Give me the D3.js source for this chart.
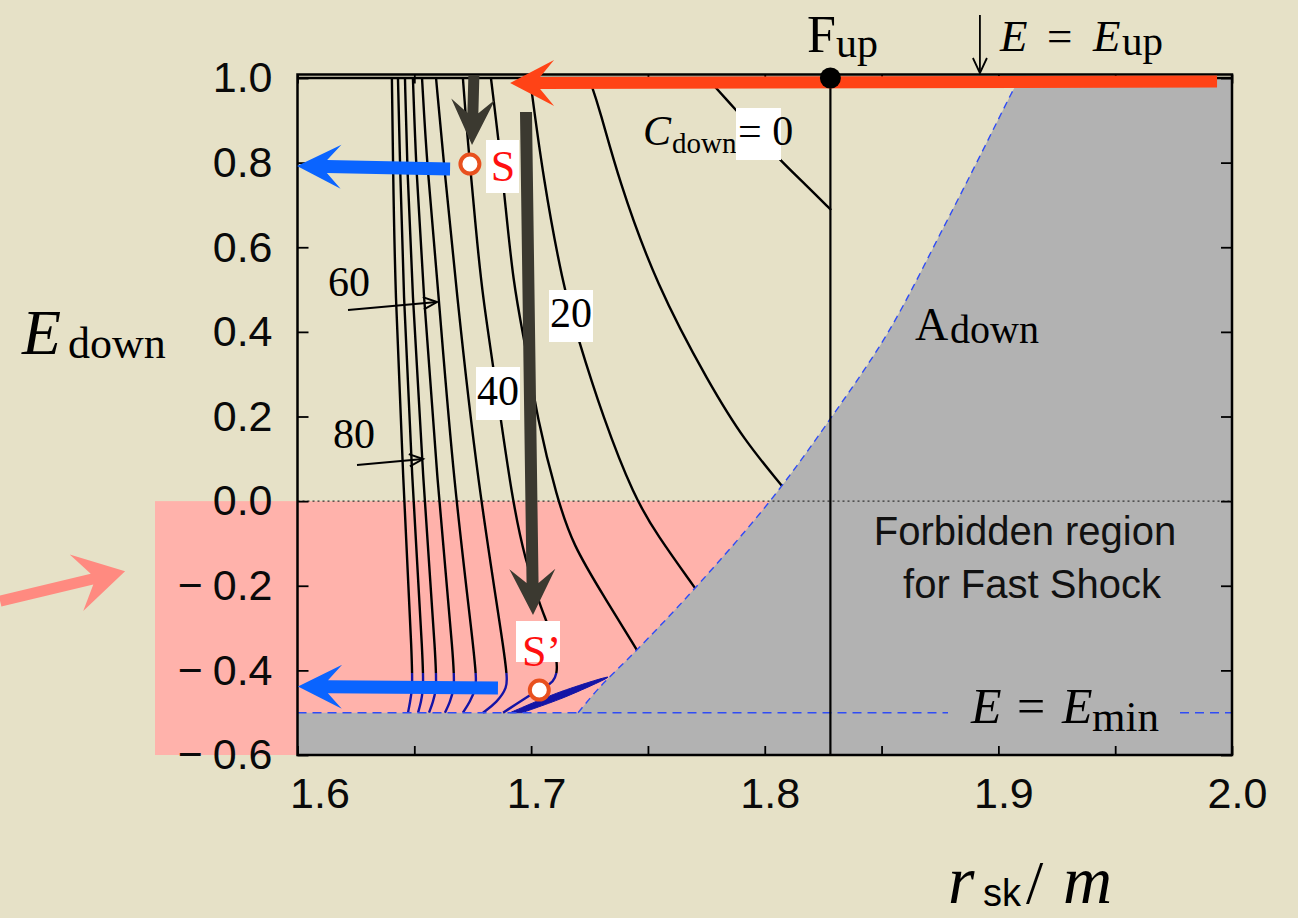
<!DOCTYPE html>
<html>
<head>
<meta charset="utf-8">
<script src="https://cdn.jsdelivr.net/npm/d3@7"></script>
<style>
  html, body { margin: 0; padding: 0; background: #e6e1c7; }
  svg { display: block; }
  .serif { font-family: "Liberation Serif", "DejaVu Serif", serif; }
  .sans { font-family: "Liberation Sans", Arial, sans-serif; }
</style>
</head>
<body>
<svg id="chart" width="1298" height="918"></svg>
<script>
// ---- axis ticks ----
const xMajorTicks = [1.6, 1.7, 1.8, 1.9, 2.0];
const xAllTicks = [1.6, 1.65, 1.7, 1.75, 1.8, 1.85, 1.9, 1.95, 2.0];
const yTicks = [-0.6, -0.4, -0.2, 0.0, 0.2, 0.4, 0.6, 0.8, 1.0];

// ---- special levels ----
const eUp = 1.0;          // upstream energy
const eMin = -0.5;        // minimum energy
const rFup = 1.8281;      // radius of point F_up
const eBlue = -0.406;     // below this, contours are drawn in blue

// ---- contour lines of C_down, [r_sk/m, E_down] ----
const contourLevels = [0, 10, 20, 30, 40, 50, 60, 70, 80, 90, 100];
const c0   = [[1.7753,1.0],[1.7881,0.922],[1.7971,0.865],[1.8065,0.806],[1.8177,0.747],[1.8284,0.688]];
const c10  = [[1.7248,1.0],[1.7295,0.924],[1.7372,0.764],[1.7535,0.511],[1.7766,0.274],[1.7911,0.145],[1.8074,0.036]];
const c20  = [[1.6995,1.0],[1.7051,0.764],[1.7136,0.511],[1.7196,0.393],[1.7308,0.197],[1.7441,0.010],[1.7539,-0.080],[1.7701,-0.205]];
const c30  = [[1.6828,1.0],[1.6880,0.764],[1.6922,0.511],[1.6982,0.352],[1.7025,0.197],[1.7111,0.007],[1.7179,-0.104],[1.7308,-0.222],[1.7453,-0.352]];
const c40  = [[1.6708,1.0],[1.6721,0.901],[1.6738,0.797],[1.6764,0.641],[1.6790,0.492],[1.6854,0.258],[1.6918,0.007],[1.6974,-0.139],[1.7042,-0.253],[1.7090,-0.316],[1.7111,-0.380],[1.7111,-0.406],[1.7094,-0.428],[1.7064,-0.437],[1.7030,-0.446],[1.6880,-0.5]];
const c50  = [[1.6593,1.0],[1.6627,0.794],[1.6678,0.511],[1.6768,0.050],[1.6901,-0.406],[1.6897,-0.442],[1.6854,-0.475],[1.6794,-0.5]];
const c60  = [[1.6533,1.0],[1.6554,0.794],[1.6601,0.511],[1.6666,0.050],[1.6768,-0.406],[1.6764,-0.442],[1.6738,-0.475],[1.6708,-0.5]];
const c70  = [[1.6494,1.0],[1.6507,0.794],[1.6537,0.511],[1.6597,0.050],[1.6674,-0.406],[1.6670,-0.442],[1.6653,-0.475],[1.6631,-0.5]];
const c80  = [[1.6460,1.0],[1.6469,0.794],[1.6490,0.511],[1.6537,0.050],[1.6597,-0.406],[1.6593,-0.446],[1.6580,-0.475],[1.6563,-0.5]];
const c90  = [[1.6430,1.0],[1.6439,0.794],[1.6452,0.511],[1.6490,0.050],[1.6541,-0.406],[1.6537,-0.446],[1.6529,-0.475],[1.6516,-0.5]];
const c100 = [[1.6404,1.0],[1.6409,0.794],[1.6417,0.511],[1.6452,0.050],[1.6494,-0.406],[1.6490,-0.446],[1.6482,-0.475],[1.6473,-0.5]];

// narrow sliver of crowded contours near the E_min corner
const sliverUpper = [[1.6910,-0.5],[1.7124,-0.451],[1.7329,-0.416]];
const sliverLower = [[1.7329,-0.416],[1.7145,-0.463],[1.6961,-0.5]];

// edge of the forbidden region for the fast shock
const boundary = [[1.7201,-0.5],[1.7295,-0.439],[1.7452,-0.352],[1.7701,-0.206],[1.8022,0.0],[1.8287,0.1995],[1.8529,0.400],[1.8767,0.6486],[1.8920,0.8142],[1.9071,0.9794],[1.9093,1.0]];

// ---- marked states ----
const pointS  = [1.6738, 0.7967];
const pointS2 = [1.7035, -0.4464];

// ---- arrows [from, to] ----
const arrowUpstream = [[1.9936, 0.9917], [1.6910, 0.988]];
const arrowShort    = [[1.6755, 1.007], [1.6747, 0.8417]];
const arrowLong     = [[1.6978, 0.9196], [1.7008, -0.2691]];
const arrowBlue1    = [[1.6653, 0.785], [1.5998, 0.792]];
const arrowBlue2    = [[1.6858, -0.4417], [1.6002, -0.438]];
const arrowPink     = [[1.4727, -0.2364], [1.5262, -0.1655]];

const svg = d3.select("#chart");
const x = d3.scaleLinear().domain([1.6, 2.0]).range([297.5, 1232]);
const y = d3.scaleLinear().domain([-0.6, 1.0]).range([755, 78]);
const frameTop = 74.5;

const BG = "#e6e1c7", PINK = "#ffb2ab", GREY = "#b2b2b2";
const DASHBLUE = "#2f4cf5", NAVY = "#1414a6";

svg.append("rect").attr("width", 1298).attr("height", 918).attr("fill", BG);

const defs = svg.append("defs");
defs.append("clipPath").attr("id", "plotClip").append("rect")
  .attr("x", x(1.6)).attr("y", frameTop).attr("width", x(2.0) - x(1.6)).attr("height", y(-0.6) - frameTop);
defs.append("clipPath").attr("id", "blackClip").append("rect")
  .attr("x", x(1.6)).attr("y", frameTop).attr("width", x(2.0) - x(1.6)).attr("height", y(eBlue) - frameTop);
defs.append("clipPath").attr("id", "blueClip").append("rect")
  .attr("x", x(1.6)).attr("y", y(eBlue)).attr("width", x(2.0) - x(1.6)).attr("height", y(-0.6) - y(eBlue));

const smooth = d3.line().x(d => x(d[0])).y(d => y(d[1])).curve(d3.curveBasis);
const through = d3.line().x(d => x(d[0])).y(d => y(d[1])).curve(d3.curveCatmullRom.alpha(0.5));

// ---- shaded regions ----
// negative-energy band, reaching out past the axis
svg.append("rect")
  .attr("x", 155).attr("y", y(0))
  .attr("width", x(1.9) - 155).attr("height", y(-0.6) - y(0))
  .attr("fill", PINK);

// forbidden region: right of the boundary plus the strip below E_min
const greyPath = through(boundary)
  + "L" + x(2.0) + "," + y(1.0)
  + "L" + x(2.0) + "," + y(-0.6)
  + "L" + x(1.6) + "," + y(-0.6)
  + "L" + x(1.6) + "," + y(eMin) + "Z";
svg.append("path").attr("d", greyPath).attr("fill", GREY).attr("clip-path", "url(#plotClip)");

const plot = svg.append("g").attr("clip-path", "url(#plotClip)");

// E = 0 dotted guide
plot.append("line")
  .attr("x1", x(1.6)).attr("x2", x(2.0)).attr("y1", y(0)).attr("y2", y(0))
  .attr("stroke", "#333").attr("stroke-width", 1.2).attr("stroke-dasharray", "2,3");

// ---- contours ----
const contours = [c0, c10, c20, c30, c40, c50, c60, c70, c80, c90, c100];
const blackG = plot.append("g").attr("clip-path", "url(#blackClip)");
const blueG = plot.append("g").attr("clip-path", "url(#blueClip)");
blackG.selectAll("path").data(contours).join("path")
  .attr("d", smooth).attr("fill", "none").attr("stroke", "#000").attr("stroke-width", 2.4);
blueG.selectAll("path").data(contours).join("path")
  .attr("d", smooth).attr("fill", "none").attr("stroke", NAVY).attr("stroke-width", 2.4);

plot.append("path")
  .attr("d", through(sliverUpper.concat(sliverLower.slice(1))) + "Z")
  .attr("fill", NAVY).attr("stroke", NAVY).attr("stroke-width", 1);

// boundary of forbidden region
plot.append("path").attr("d", through(boundary))
  .attr("fill", "none").attr("stroke", DASHBLUE).attr("stroke-width", 1.4).attr("stroke-dasharray", "7,5");

// E = E_min dashed line, with a gap for its label
plot.append("line")
  .attr("x1", x(1.6)).attr("x2", 948).attr("y1", y(eMin)).attr("y2", y(eMin))
  .attr("stroke", DASHBLUE).attr("stroke-width", 1.4).attr("stroke-dasharray", "9,6");
plot.append("line")
  .attr("x1", 1180).attr("x2", x(2.0)).attr("y1", y(eMin)).attr("y2", y(eMin))
  .attr("stroke", DASHBLUE).attr("stroke-width", 1.4).attr("stroke-dasharray", "9,6");

// vertical line through F_up
svg.append("line")
  .attr("x1", x(rFup)).attr("x2", x(rFup)).attr("y1", frameTop).attr("y2", y(-0.6))
  .attr("stroke", "#000").attr("stroke-width", 2.2);

// ---- frame and axes ----
svg.append("rect")
  .attr("x", x(1.6)).attr("y", frameTop).attr("width", x(2.0) - x(1.6)).attr("height", y(-0.6) - frameTop)
  .attr("fill", "none").attr("stroke", "#000").attr("stroke-width", 2.5);
svg.append("line")
  .attr("x1", x(1.6)).attr("x2", x(2.0)).attr("y1", y(eUp)).attr("y2", y(eUp))
  .attr("stroke", "#000").attr("stroke-width", 2.5);

const fmtX = d => xMajorTicks.some(v => Math.abs(v - d) < 1e-9) ? d.toFixed(1) : "";
const gx = svg.append("g").attr("transform", `translate(0,${y(-0.6)})`)
  .call(d3.axisBottom(x).tickValues(xAllTicks).tickSize(-9).tickPadding(22).tickFormat(fmtX));
gx.selectAll("text").attr("dx", d => Math.abs(d - 1.6) < 1e-9 ? 22 : 5);
const gxTop = svg.append("g").attr("transform", `translate(0,${frameTop})`)
  .call(d3.axisTop(x).tickValues(xAllTicks).tickSize(-9).tickFormat(""));
const gy = svg.append("g").attr("transform", `translate(${x(1.6)},0)`)
  .call(d3.axisLeft(y).tickValues(yTicks).tickSize(-11).tickPadding(25).tickFormat(d => Math.abs(d).toFixed(1)));
const gyR = svg.append("g").attr("transform", `translate(${x(2.0)},0)`)
  .call(d3.axisRight(y).tickValues(yTicks).tickSize(-11).tickFormat(""));
[gx, gxTop, gy, gyR].forEach(g => {
  g.select(".domain").remove();
  g.selectAll(".tick line").attr("stroke", "#000").attr("stroke-width", 1.8);
  g.selectAll("text").attr("fill", "#0a0a0a")
    .style("font-family", '"Liberation Sans", Arial, sans-serif').style("font-size", "43px");
});
// negative labels carry a wide, detached minus sign
gy.selectAll(".tick text").each(function (d) {
  if (d >= 0) return;
  const t = d3.select(this), val = Math.abs(d).toFixed(1);
  t.text(null);
  t.append("tspan").attr("textLength", 25).attr("lengthAdjust", "spacingAndGlyphs").text("\u2212");
  t.append("tspan").attr("dx", 10).text(val);
});

// ---- arrows ----
function fatArrow(seg, half, headLen, headHalf, notch, color) {
  const [x1, y1] = [x(seg[0][0]), y(seg[0][1])];
  const [x2, y2] = [x(seg[1][0]), y(seg[1][1])];
  const L = Math.hypot(x2 - x1, y2 - y1);
  const ux = (x2 - x1) / L, uy = (y2 - y1) / L, nx = -uy, ny = ux;
  const pts = [
    [x1 + nx * half, y1 + ny * half],
    [x2 - ux * notch + nx * half, y2 - uy * notch + ny * half],
    [x2 - ux * headLen + nx * headHalf, y2 - uy * headLen + ny * headHalf],
    [x2, y2],
    [x2 - ux * headLen - nx * headHalf, y2 - uy * headLen - ny * headHalf],
    [x2 - ux * notch - nx * half, y2 - uy * notch - ny * half],
    [x1 - nx * half, y1 - ny * half]
  ];
  svg.append("path").attr("d", "M" + pts.map(p => p.join(",")).join("L") + "Z").attr("fill", color);
}
function thinArrow(x1, y1, x2, y2) {
  const a = Math.atan2(y2 - y1, x2 - x1), h = 15, s = 0.42;
  const g = svg.append("g").attr("stroke", "#000").attr("stroke-width", 2).attr("fill", "none");
  g.append("line").attr("x1", x1).attr("y1", y1).attr("x2", x2).attr("y2", y2);
  g.append("path").attr("d",
    `M${x2 - h * Math.cos(a - s)},${y2 - h * Math.sin(a - s)}L${x2},${y2}L${x2 - h * Math.cos(a + s)},${y2 - h * Math.sin(a + s)}`);
}

fatArrow(arrowUpstream, 6, 44, 23, 30, "#ff4316");
fatArrow(arrowShort, 5.5, 46, 22, 32, "#3b3930");
fatArrow(arrowLong, 6, 46, 23, 32, "#3b3930");
fatArrow(arrowBlue1, 6.5, 44, 22, 30, "#0a64ff");
fatArrow(arrowBlue2, 6.5, 44, 22, 30, "#0a64ff");
fatArrow(arrowPink, 5.5, 50, 29, 34, "#ff8a80");

// F_up point
svg.append("circle").attr("cx", x(rFup)).attr("cy", y(eUp)).attr("r", 10.5).attr("fill", "#000");

// ---- text helpers ----
function serif(xp, yp, size, txt, opts = {}) {
  return svg.append("text").attr("class", "serif").attr("x", xp).attr("y", yp)
    .style("font-size", size + "px").style("font-style", opts.italic ? "italic" : "normal")
    .attr("fill", opts.fill || "#000").attr("text-anchor", opts.anchor || "start").text(txt);
}
function whiteBox(x0, y0, w, h) {
  svg.append("rect").attr("x", x0).attr("y", y0).attr("width", w).attr("height", h).attr("fill", "#fff");
}

// contour value labels
whiteBox(549, 290, 44, 52); serif(571, 327, 42, "20", { anchor: "middle" });
whiteBox(476, 367, 44, 53); serif(498, 405, 42, "40", { anchor: "middle" });
serif(328, 296, 42, "60"); thinArrow(348, 310, 437, 302);
serif(333, 448, 42, "80"); thinArrow(357, 465, 423, 459);

serif(643, 145, 42, "C", { italic: true });
serif(672, 153, 29, "down");
whiteBox(736, 108, 45, 52);
serif(738, 145, 42, "= 0");

// states S and S'
whiteBox(486, 140, 33, 53); serif(503, 181, 44, "S", { anchor: "middle", fill: "#ff1010" });
whiteBox(516, 621, 44, 41); serif(522, 666, 44, "S\u2019", { fill: "#ff1010" });
[pointS, pointS2].forEach(p => {
  svg.append("circle").attr("cx", x(p[0])).attr("cy", y(p[1])).attr("r", 9.5)
    .attr("fill", "#fff").attr("stroke", "#e8501e").attr("stroke-width", 4);
});

// top annotations
serif(807, 52, 52, "F");
serif(836, 57, 42, "up");
svg.append("line").attr("x1", x(1.8921)).attr("x2", x(1.8921)).attr("y1", 15).attr("y2", 73)
  .attr("stroke", "#000").attr("stroke-width", 1.8);
svg.append("path").attr("d", `M${x(1.8921) - 7},58L${x(1.8921)},73L${x(1.8921) + 7},58`)
  .attr("stroke", "#000").attr("stroke-width", 1.8).attr("fill", "none");
serif(1000, 51, 45, "E", { italic: true });
serif(1047, 51, 45, "=");
serif(1093, 51, 45, "E", { italic: true });
serif(1122, 55, 41, "up");

// region labels
serif(915, 340, 46, "A");
serif(950, 343, 40, "down");
svg.append("text").attr("class", "sans").attr("x", 1025).attr("y", 545).attr("text-anchor", "middle")
  .style("font-size", "40px").attr("fill", "#111").text("Forbidden region");
svg.append("text").attr("class", "sans").attr("x", 1032).attr("y", 598).attr("text-anchor", "middle")
  .style("font-size", "40px").attr("fill", "#111").text("for Fast Shock");
serif(971, 723, 50, "E", { italic: true });
serif(1017, 723, 50, "=");
serif(1062, 723, 50, "E", { italic: true });
serif(1092, 731, 43, "min");

// axis titles
serif(22, 354, 64, "E", { italic: true });
serif(68, 358, 44, "down");
serif(948, 903, 68, "r", { italic: true });
svg.append("text").attr("class", "sans").attr("x", 983).attr("y", 906).style("font-size", "38px").text("sk");
serif(1026, 903, 62, "/");
serif(1063, 903, 68, "m", { italic: true });
</script>
</body>
</html>
